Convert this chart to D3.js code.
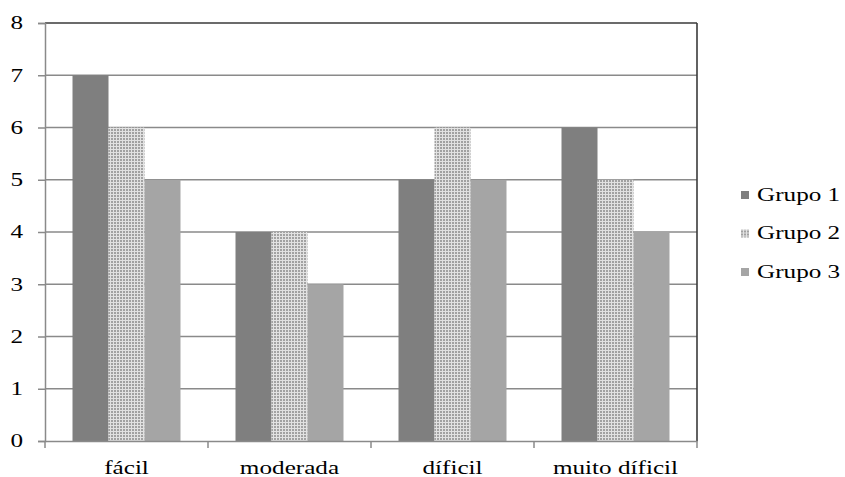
<!DOCTYPE html>
<html>
<head>
<meta charset="utf-8">
<script src="https://cdn.jsdelivr.net/npm/d3@7"></script>
<style>
  html, body { margin: 0; padding: 0; background: #fff; }
  svg { display: block; }
</style>
</head>
<body>
<svg id="chart" width="845" height="477"></svg>
<script>
// Difficulty levels and counts per group
const categories = ["fácil", "moderada", "díficil", "muito díficil"];
const groups = ["Grupo 1", "Grupo 2", "Grupo 3"];
const grupo1 = [7, 4, 5, 6];
const grupo2 = [6, 4, 6, 5];
const grupo3 = [5, 3, 5, 4];
const yTicks = [0, 1, 2, 3, 4, 5, 6, 7, 8];

const seriesValues = [grupo1, grupo2, grupo3];

const FONT = "'Times New Roman', 'Liberation Serif', Tinos, serif";
const svg = d3.select("#chart");
const margin = { left: 45, right: 148, top: 23, bottom: 36 };
const W = 845, H = 477;
const plotR = W - margin.right;
const plotB = H - margin.bottom;
const fontSize = 18;
const stretch = 1.4;

// Dotted texture for Grupo 2
const defs = svg.append("defs");
const pat = defs.append("pattern")
  .attr("id", "dots")
  .attr("patternUnits", "userSpaceOnUse")
  .attr("width", 3).attr("height", 3);
pat.append("rect").attr("width", 3).attr("height", 3).attr("fill", "#e2e2e2");
pat.append("rect").attr("x", 0).attr("y", 0).attr("width", 2).attr("height", 2).attr("fill", "#a2a2a2");

const fills = ["#7f7f7f", "url(#dots)", "#a5a5a5"];

const x0 = d3.scaleBand().domain(categories).range([margin.left, plotR]).padding(0);
const x1 = d3.scaleBand().domain(groups).range([0, x0.bandwidth()])
  .paddingInner(0).paddingOuter(0.764);
const y = d3.scaleLinear().domain([0, 8]).range([plotB, margin.top]);

// Horizontal gridlines
svg.append("g").selectAll("line")
  .data(yTicks.filter(t => t > 0 && t < 8))
  .join("line")
  .attr("x1", margin.left).attr("x2", plotR)
  .attr("y1", d => y(d)).attr("y2", d => y(d))
  .attr("stroke", "#8a8a8a").attr("stroke-width", 1.3);

// Bars
const rows = categories.map((c, i) => ({ cat: c, vals: groups.map((g, j) => ({ g, j, v: seriesValues[j][i] })) }));
svg.append("g").selectAll("g")
  .data(rows)
  .join("g")
  .attr("transform", d => `translate(${x0(d.cat)},0)`)
  .selectAll("rect")
  .data(d => d.vals)
  .join("rect")
  .attr("x", d => x1(d.g))
  .attr("width", x1.bandwidth())
  .attr("y", d => y(d.v))
  .attr("height", d => y(0) - y(d.v))
  .attr("fill", d => fills[d.j]);

// Plot frame: top and right darker
svg.append("line").attr("x1", margin.left).attr("x2", plotR)
  .attr("y1", y(8)).attr("y2", y(8)).attr("stroke", "#3a3a3a").attr("stroke-width", 1.6);
svg.append("line").attr("x1", plotR).attr("x2", plotR)
  .attr("y1", y(8)).attr("y2", plotB).attr("stroke", "#3a3a3a").attr("stroke-width", 1.6);

// Y axis
const yAxis = svg.append("g")
  .attr("transform", `translate(${margin.left},0)`)
  .call(d3.axisLeft(y).tickValues(yTicks).tickSize(7).tickPadding(0).tickFormat(d3.format("d")))
  .attr("font-family", FONT);
yAxis.select(".domain").attr("stroke", "#8a8a8a").attr("stroke-width", 1.5);
yAxis.selectAll(".tick line").attr("stroke", "#8a8a8a").attr("stroke-width", 1.5);
yAxis.selectAll(".tick text")
  .attr("font-family", FONT)
  .attr("font-size", fontSize).attr("x", 0).attr("dy", "0.33em")
  .attr("fill", "#000")
  .attr("transform", `translate(-22,0) scale(${stretch},1)`);

// X axis
const xAxis = svg.append("g")
  .attr("transform", `translate(0,${plotB})`)
  .call(d3.axisBottom(x0).tickSize(0).tickFormat(d => d))
  .attr("font-family", FONT);
xAxis.select(".domain").attr("stroke", "#8a8a8a").attr("stroke-width", 1.5);
xAxis.selectAll(".tick text")
  .attr("font-family", FONT)
  .attr("font-size", fontSize).attr("y", 0).attr("dy", 0)
  .attr("fill", "#000")
  .attr("transform", `translate(0,33) scale(${stretch},1)`);
// Category boundary ticks
xAxis.append("g").selectAll("line")
  .data(categories.map(c => x0(c)).concat([plotR]))
  .join("line")
  .attr("x1", d => d).attr("x2", d => d)
  .attr("y1", 0).attr("y2", 7)
  .attr("stroke", "#8a8a8a").attr("stroke-width", 1.5);

// Legend
const legend = svg.append("g").selectAll("g")
  .data(groups)
  .join("g")
  .attr("transform", (d, i) => `translate(741,${195 + i * 38.5})`);
legend.append("rect")
  .attr("x", 0).attr("y", -4).attr("width", 8).attr("height", 8)
  .attr("fill", (d, i) => fills[i]);
legend.append("text")
  .attr("font-family", FONT)
  .attr("font-size", fontSize).attr("dy", "0.33em")
  .attr("fill", "#000")
  .attr("transform", `translate(16,0) scale(${stretch},1)`)
  .text(d => d);
</script>
</body>
</html>
